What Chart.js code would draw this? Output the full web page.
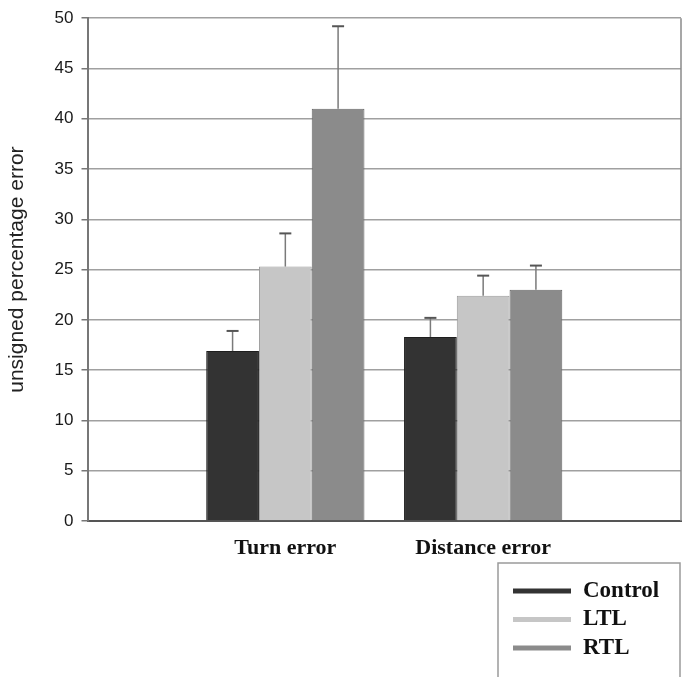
<!DOCTYPE html>
<html>
<head>
<meta charset="utf-8">
<script src="https://cdn.jsdelivr.net/npm/chart.js@4"></script>
<style>
  html, body { margin: 0; padding: 0; background: #fff; }
  #wrap { width: 688px; height: 677px; position: relative; }
</style>
</head>
<body>
<div id="wrap"><canvas id="chart" width="688" height="677"></canvas></div>
<script>
// categories sit at x = 1 and 2 on a 0..3 axis, like the original layout
const categories = ['Turn error', 'Distance error'];
const categoryPos = [1, 2];
const yTicks = [0, 5, 10, 15, 20, 25, 30, 35, 40, 45, 50];

const controlMeans = [16.9, 18.3];
const ltlMeans = [25.3, 22.4];
const rtlMeans = [41.0, 23.0];

const controlUpper = [18.9, 20.2];
const ltlUpper = [28.6, 24.4];
const rtlUpper = [49.2, 25.4];

const groups = [
    { label: 'Control', color: '#333333', border: '#1e1e1e', means: controlMeans, upper: controlUpper },
    { label: 'LTL', color: '#c6c6c6', border: '#9a9a9a', means: ltlMeans, upper: ltlUpper },
    { label: 'RTL', color: '#8b8b8b', border: '#656565', means: rtlMeans, upper: rtlUpper }
];

const datasets = groups.map(g => ({
    label: g.label,
    backgroundColor: g.color,
    borderColor: g.border,
    borderWidth: 1,
    data: g.means.map((v, i) => ({ x: categoryPos[i], y: v })),
    upper: g.upper,
    categoryPercentage: 0.8,
    barPercentage: 1.0
}));

// error bars (upper half only, with a small cap)
const errorBars = {
    id: 'errorBars',
    afterDatasetsDraw(chart) {
        const ctx = chart.ctx;
        const y = chart.scales.y;
        ctx.save();
        chart.data.datasets.forEach((ds, di) => {
            const meta = chart.getDatasetMeta(di);
            meta.data.forEach((bar, i) => {
                const top = y.getPixelForValue(ds.upper[i]);
                ctx.strokeStyle = '#7a7a7a';
                ctx.lineWidth = 1.5;
                ctx.beginPath();
                ctx.moveTo(bar.x, bar.y);
                ctx.lineTo(bar.x, top);
                ctx.stroke();
                ctx.strokeStyle = '#555';
                ctx.lineWidth = 2;
                ctx.beginPath();
                ctx.moveTo(bar.x - 6, top);
                ctx.lineTo(bar.x + 6, top);
                ctx.stroke();
            });
        });
        ctx.restore();
    }
};

// right border of the plot
const frame = {
    id: 'frame',
    beforeDatasetsDraw(chart) {
        const { ctx, chartArea: a } = chart;
        ctx.save();
        ctx.strokeStyle = '#8a8a8a';
        ctx.lineWidth = 1.5;
        ctx.beginPath();
        ctx.moveTo(a.right, a.top);
        ctx.lineTo(a.right, a.bottom);
        ctx.stroke();
        ctx.restore();
    }
};

// boxed legend at the bottom right
const boxLegend = {
    id: 'boxLegend',
    afterDraw(chart) {
        const ctx = chart.ctx;
        const x0 = 498, y0 = 563, w = 182, h = 120;
        ctx.save();
        ctx.strokeStyle = '#9a9a9a';
        ctx.lineWidth = 1.5;
        ctx.strokeRect(x0, y0, w, h);
        ctx.font = 'bold 23px "Liberation Serif", "Times New Roman", serif';
        ctx.textBaseline = 'middle';
        chart.data.datasets.forEach((ds, i) => {
            const cy = 591 + i * 28.5;
            ctx.fillStyle = ds.backgroundColor;
            ctx.fillRect(513, cy - 2.5, 58, 5);
            ctx.fillStyle = '#111';
            ctx.fillText(ds.label, 583, cy);
        });
        ctx.restore();
    }
};

const ctx = document.getElementById('chart').getContext('2d');
new Chart(ctx, {
    type: 'bar',
    data: { datasets: datasets },
    plugins: [frame, errorBars, boxLegend],
    options: {
        responsive: false,
        animation: false,
        layout: { padding: { left: 0, right: 7, top: 18, bottom: 0 } },
        plugins: { legend: { display: false }, tooltip: { enabled: false } },
        scales: {
            x: {
                type: 'linear',
                min: 0,
                max: 3,
                offset: false,
                bounds: 'data',
                afterBuildTicks: s => { s.ticks = categoryPos.map(v => ({ value: v })); },
                afterFit: s => { s.height = 156; },
                grid: { display: false, drawTicks: false },
                border: { color: '#555', width: 2 },
                ticks: {
                    padding: 14,
                    color: '#111',
                    font: { family: '"Liberation Serif", "Times New Roman", serif', size: 22, weight: 'bold' },
                    callback: (v) => categories[categoryPos.indexOf(v)] || ''
                }
            },
            y: {
                min: 0,
                max: 50,
                afterBuildTicks: s => { s.ticks = yTicks.map(v => ({ value: v })); },
                afterFit: s => { s.width = 87.5; },
                grid: { color: '#a0a0a0', lineWidth: 1.5, tickLength: 6, tickColor: '#777' },
                border: { color: '#777', width: 2 },
                ticks: {
                    padding: 8,
                    color: '#1a1a1a',
                    font: { family: '"Liberation Sans", Arial, sans-serif', size: 17 }
                },
                title: {
                    display: true,
                    text: 'unsigned percentage error',
                    color: '#222',
                    padding: { top: 5, bottom: 0 },
                    font: { family: '"Liberation Sans", Arial, sans-serif', size: 21 }
                }
            }
        }
    }
});
</script>
</body>
</html>
